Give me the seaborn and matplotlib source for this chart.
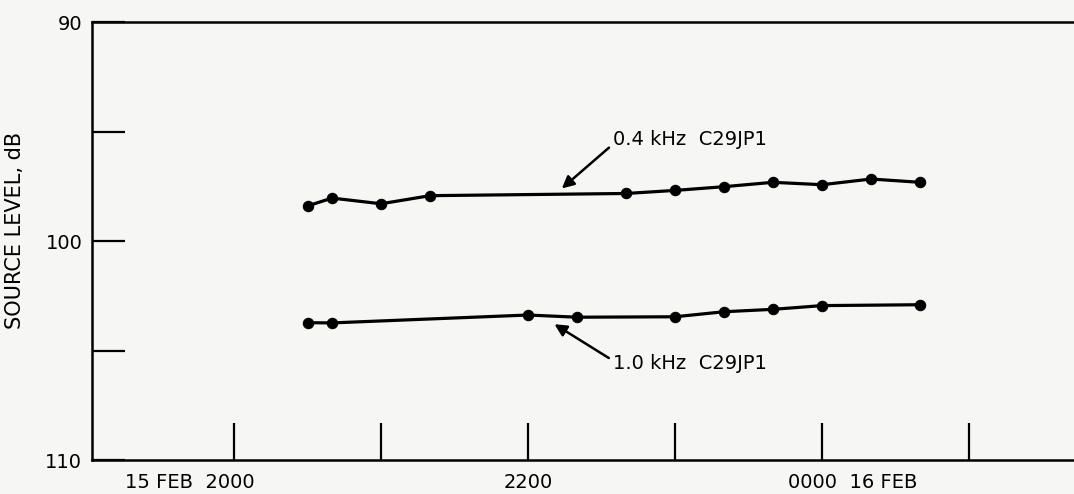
import matplotlib
matplotlib.use("Agg")
import matplotlib.pyplot as plt
import matplotlib.transforms as mtransforms
import seaborn as sns
import pandas as pd

# ---- data ----
times_04 = ["2030", "2040", "2100", "2120", "2240", "2300", "2320", "2340", "0000", "0020", "0040"]
level_04 = [98.40, 98.04, 98.30, 97.93, 97.83, 97.69, 97.52, 97.32, 97.43, 97.17, 97.32]

times_10 = ["2030", "2040", "2200", "2220", "2300", "2320", "2340", "0000", "0040"]
level_10 = [103.73, 103.74, 103.38, 103.48, 103.46, 103.23, 103.12, 102.95, 102.91]

label_04 = "0.4 kHz  C29JP1"
label_10 = "1.0 kHz  C29JP1"

hour_ticks = ["2000", "2100", "2200", "2300", "0000", "0100"]
hour_labels = ["15 FEB  2000", "", "2200", "", "0000  16 FEB", ""]
y_ticks = [90, 95, 100, 105, 110]
y_labels = ["90", "", "100", "", "110"]


def to_hours(s):
    h = int(s[:2]) + int(s[2:]) / 60.0
    if h < 12:
        h += 24
    return h


df = pd.concat([
    pd.DataFrame({"t": [to_hours(s) for s in times_04], "db": level_04, "series": label_04}),
    pd.DataFrame({"t": [to_hours(s) for s in times_10], "db": level_10, "series": label_10}),
])

sns.set_theme(style="white")
plt.rcParams["font.family"] = ["DejaVu Sans"]
bg = "#f6f6f4"

fig = plt.figure(figsize=(10.74, 4.94), dpi=100, facecolor=bg)
ax = fig.add_axes([92 / 1074, 34 / 494, 1 - 92 / 1074, (460 - 22) / 494])
ax.set_facecolor(bg)

sns.lineplot(data=df, x="t", y="db", units="series", estimator=None, color="black",
             marker="o", markersize=7.5, markeredgecolor="black", linewidth=2.3, ax=ax,
             sort=True)

ax.set_xlim(19.034, 25.714)
ax.set_ylim(110, 90)

ax.set_xticks([to_hours(s) for s in hour_ticks])
ax.set_xticklabels(hour_labels, fontsize=14, color="black")
ax.set_yticks(y_ticks)
ax.set_yticklabels(y_labels, fontsize=14, color="black")
ax.tick_params(axis="x", direction="in", length=27, width=1.6, color="black", pad=9)
ax.tick_params(axis="y", direction="in", length=24, width=1.6, color="black", pad=7)
ax.tick_params(axis="both", which="both", bottom=True, left=True, top=False, right=False)

# shift the date-bearing tick labels so the hour part sits under its tick
xl = ax.get_xticklabels()
xl[0].set_ha("right")
xl[0].set_transform(xl[0].get_transform() + mtransforms.ScaledTranslation(0.21, 0, fig.dpi_scale_trans))
xl[4].set_ha("left")
xl[4].set_transform(xl[4].get_transform() + mtransforms.ScaledTranslation(-0.34, 0, fig.dpi_scale_trans))

ax.set_xlabel("")
ax.set_ylabel("SOURCE LEVEL, dB", fontsize=15, color="black")
ax.yaxis.set_label_coords(-0.068, 0.525)

for side in ["left", "top", "bottom"]:
    ax.spines[side].set_color("black")
    ax.spines[side].set_linewidth(1.8)
ax.spines["right"].set_visible(False)

# series annotations
ax.annotate(label_04, xy=(22.23, 97.6), xytext=(22.58, 95.35), fontsize=14,
            ha="left", va="center", color="black",
            arrowprops=dict(arrowstyle="-|>", color="black", lw=1.8, mutation_scale=18,
                            shrinkA=1, shrinkB=0, relpos=(0, 0.25)))
ax.annotate(label_10, xy=(22.18, 103.8), xytext=(22.58, 105.6), fontsize=14,
            ha="left", va="center", color="black",
            arrowprops=dict(arrowstyle="-|>", color="black", lw=1.8, mutation_scale=18,
                            shrinkA=1, shrinkB=0, relpos=(0, 0.65)))

legend = ax.get_legend()
if legend is not None:
    legend.remove()

fig.savefig("out.png", dpi=100, facecolor=bg)
